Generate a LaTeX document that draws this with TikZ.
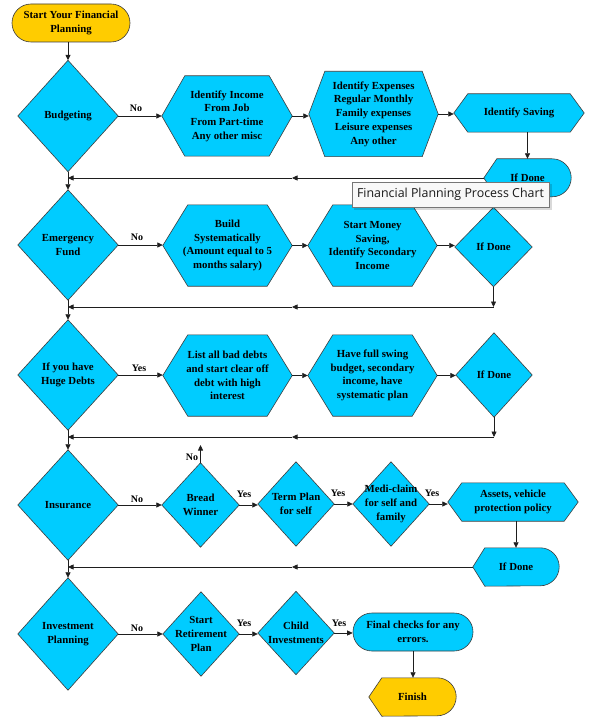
\documentclass[tikz,border=0pt]{standalone}
\usepackage{fontspec}
\setmainfont{Liberation Serif}
\newfontfamily\tipfont{Open Sans}
\usetikzlibrary{arrows.meta,backgrounds,calc}
\definecolor{cyanfill}{RGB}{0,204,255}
\definecolor{goldfill}{RGB}{255,204,0}
\definecolor{edgegray}{RGB}{60,60,60}
\definecolor{linegray}{RGB}{30,30,30}
\definecolor{tipfill}{RGB}{248,248,248}
\definecolor{tipedge}{RGB}{118,118,118}
\tikzset{
  every node/.style={font=\bfseries\fontsize{10.8}{13.7}\selectfont, align=center, inner sep=0pt},
  frame/.style n args={2}{rectangle, minimum width=#1, minimum height=#2},
  shapefill/.style={fill=cyanfill, draw=edgegray, line width=0.6pt},
  goldshape/.style={fill=goldfill, draw=edgegray, line width=0.6pt},
  stadium/.style n args={2}{rectangle, rounded corners=19pt, minimum width=#1, minimum height=#2, line width=0.6pt, draw=edgegray},
  conn/.style={draw=linegray, line width=0.7pt, -{Triangle[length=5.5pt,width=5pt]}},
  lbl/.style={font=\bfseries\fontsize{10}{12}\selectfont},
  tip/.style={rectangle, fill=tipfill, draw=tipedge, line width=0.6pt, minimum width=197pt, minimum height=25pt, font=\tipfont\fontsize{12.4}{14}\selectfont, text=black!90}
}
\newcommand{\diashape}[2][shapefill]{\path[#1] (#2.west) -- (#2.north) -- (#2.east) -- (#2.south) -- cycle;}
\newcommand{\hexshape}[3][shapefill]{\path[#1] (#2.west) -- ([xshift=#3pt]#2.north west) -- ([xshift=-#3pt]#2.north east) -- (#2.east) -- ([xshift=-#3pt]#2.south east) -- ([xshift=#3pt]#2.south west) -- cycle;}
\newcommand{\dispshape}[3][shapefill]{\path[#1] (#2.west) -- ([xshift=#3pt]#2.north west) -- ([xshift=-19pt]#2.north east) arc[start angle=90,end angle=-90,radius=19pt] -- ([xshift=#3pt]#2.south west) -- cycle;}
\begin{document}
\begin{tikzpicture}[x=1pt,y=-1pt]
\useasboundingbox (0,0) rectangle (590,722);

% start
\node[stadium={118pt}{38pt}, fill=goldfill] (start) at (71,23) {Start Your Financial\\Planning};

% row 1
\node[frame={100pt}{111pt}] (d1) at (68,116) {Budgeting};
\node[frame={130pt}{80pt}] (h1a) at (227,116) {Identify Income\\From Job\\From Part-time\\Any other misc};
\node[frame={129pt}{85pt}] (h1b) at (373.5,114) {Identify Expenses\\Regular Monthly\\Family expenses\\Leisure expenses\\Any other};
\node[frame={130pt}{38pt}] (h1c) at (519,113) {Identify Saving};
\node[frame={87pt}{38pt}] (if1) at (527.5,178) {If Done};

% row 2
\node[frame={100pt}{110pt}] (d2) at (68,245) {Emergency\\Fund};
\node[frame={129pt}{81pt}] (h2a) at (227.5,245.5) {Build\\Systematically\\(Amount equal to 5\\months salary)};
\node[frame={129pt}{81pt}] (h2b) at (372.5,245.5) {Start Money\\Saving,\\Identify Secondary\\Income};
\node[frame={77pt}{79pt}] (d2b) at (493.5,247) {If Done};

% row 3
\node[frame={100pt}{110pt}] (d3) at (68,375) {If you have\\Huge Debts};
\node[frame={129pt}{81pt}] (h3a) at (227.5,375.5) {List all bad debts\\and start clear off\\debt with high\\interest};
\node[frame={129pt}{81pt}] (h3b) at (372.5,375.5) {Have full swing\\budget, secondary\\income, have\\systematic plan};
\node[frame={76pt}{84pt}] (d3b) at (494,375) {If Done};

% row 4
\node[frame={100pt}{110pt}] (d4) at (68,505) {Insurance};
\node[frame={77pt}{84pt}] (d4a) at (200.5,505) {Bread\\Winner};
\node[frame={76pt}{84pt}] (d4b) at (296,504) {Term Plan\\for self};
\node[frame={76pt}{84pt}] (d4c) at (391,504) {Medi-claim\\for self and\\family};
\node[frame={130pt}{38pt}] (h4) at (513,502) {Assets, vehicle\\protection policy};
\node[frame={86pt}{38pt}] (if4) at (516,567) {If Done};

% row 5
\node[frame={100pt}{112pt}] (d5) at (68,634) {Investment\\Planning};
\node[frame={76pt}{84pt}] (d5a) at (201,634) {Start\\Retirement\\Plan};
\node[frame={76pt}{83pt}] (d5b) at (296,633) {Child\\Investments};
\node[stadium={120pt}{38pt}, fill=cyanfill] (final) at (413,632) {Final checks for any\\errors.};
\node[frame={87pt}{38pt}] (finish) at (412.5,697) {Finish};

% shapes behind
\begin{pgfonlayer}{background}
  \fill[white] (0,0) rectangle (590,722);
  \diashape{d1} \diashape{d2} \diashape{d3} \diashape{d4} \diashape{d5}
  \diashape{d2b} \diashape{d3b} \diashape{d4a} \diashape{d4b} \diashape{d4c}
  \diashape{d5a} \diashape{d5b}
  \hexshape{h1a}{23} \hexshape{h1b}{16} \hexshape{h1c}{14}
  \hexshape{h2a}{25} \hexshape{h2b}{25}
  \hexshape{h3a}{25} \hexshape{h3b}{25}
  \hexshape{h4}{14}
  \dispshape{if1}{13} \dispshape{if4}{12}
  \dispshape[goldshape]{finish}{13}
\end{pgfonlayer}

% junction coordinates
\coordinate (j1) at (68,178);  \coordinate (m1) at (292,178);
\coordinate (j2) at (68,307);  \coordinate (m2) at (292,307); \coordinate (c2) at (493.5,307);
\coordinate (j3) at (68,437);  \coordinate (m3) at (292,437); \coordinate (c3) at (494,437);
\coordinate (j4) at (68,567);  \coordinate (m4) at (292,567);
\coordinate (bwup) at (200.5,445);

% connectors
\draw[conn] (start.south -| d1.north) -- (d1.north);
\draw[conn] (d1.south) -- (d2.north);
\draw[conn] (d2.south) -- (d3.north);
\draw[conn] (d3.south) -- (d4.north);
\draw[conn] (d4.south) -- (d5.north);

\draw[conn] (d1.east) -- (d1.east -| h1a.west);
\draw[conn] (h1a.east) -- (h1a.east -| h1b.west);
\draw[conn] (h1b.east) -- (h1b.east -| h1c.west);
\draw[conn] (h1c.south -| if1.north) -- (if1.north);
\draw[conn] (if1.west) -- (m1);
\draw[conn] (m1) -- (j1);

\draw[conn] (d2.east) -- (d2.east -| h2a.west);
\draw[conn] (h2a.east) -- (h2a.east -| h2b.west);
\draw[conn] (h2b.east) -- (h2b.east -| d2b.west);
\draw[conn] (d2b.south) -- (c2);
\draw[conn] (c2) -- (m2);
\draw[conn] (m2) -- (j2);

\draw[conn] (d3.east) -- (d3.east -| h3a.west);
\draw[conn] (h3a.east) -- (h3a.east -| h3b.west);
\draw[conn] (h3b.east) -- (h3b.east -| d3b.west);
\draw[conn] (d3b.south) -- (c3);
\draw[conn] (c3) -- (m3);
\draw[conn] (m3) -- (j3);

\draw[conn] (d4.east) -- (d4.east -| d4a.west);
\draw[conn] (d4a.north) -- (bwup);
\draw[conn] (d4a.east) -- (d4a.east -| d4b.west);
\draw[conn] (d4b.east) -- (d4b.east -| d4c.west);
\draw[conn] (d4c.east) -- (d4c.east -| h4.west);
\draw[conn] (h4.south -| if4.north) -- (if4.north);
\draw[conn] (if4.west) -- (m4);
\draw[conn] (m4) -- (j4);

\draw[conn] (d5.east) -- (d5.east -| d5a.west);
\draw[conn] (d5a.east) -- (d5a.east -| d5b.west);
\draw[conn] (d5b.east) -- (d5b.east -| final.west);
\draw[conn] (final.south) -- (final.south |- finish.north);

% labels
\node[lbl] (l1) at (136,108) {No};
\node[lbl] (l2) at (137,237) {No};
\node[lbl] (l3) at (139,368) {Yes};
\node[lbl] (l4) at (137,499) {No};
\node[lbl] (l4n) at (192,457) {No};
\node[lbl] (l4a) at (244,494) {Yes};
\node[lbl] (l4b) at (338,493) {Yes};
\node[lbl] (l4c) at (432,493) {Yes};
\node[lbl] (l5) at (137,628) {No};
\node[lbl] (l5a) at (244,623) {Yes};
\node[lbl] (l5b) at (339,623) {Yes};

% tooltip
\fill[black, opacity=0.15] (354,184) rectangle (551.5,209.5);
\node[tip] (tooltip) at (450.5,194.5) {Financial Planning Process Chart};
\end{tikzpicture}
\end{document}
